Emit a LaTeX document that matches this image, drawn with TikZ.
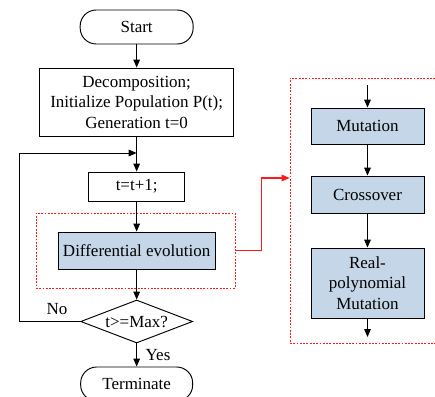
\documentclass[tikz,border=0pt]{standalone}
\usepackage{fontspec}
\setmainfont{Liberation Serif}
\usetikzlibrary{arrows.meta,shapes.geometric}
\definecolor{opfill}{HTML}{C4D6E7}
\definecolor{linkred}{HTML}{FF1A1A}

\begin{document}
\begin{tikzpicture}[x=1cm,y=1cm,
  font=\fontsize{14.5}{17.5}\selectfont,
  procbox/.style={draw=black, line width=0.8pt, align=center, inner sep=2pt},
  opbox/.style={procbox, fill=opfill, minimum width=3.39cm},
  termbox/.style={procbox, rounded corners=0.48cm, minimum height=1.02cm},
  decision/.style={procbox, diamond, aspect=2.6, inner sep=0pt, minimum width=3.36cm, minimum height=1.29cm},
  redbox/.style={draw=linkred, line width=0.6pt, dash pattern=on 1.6pt off 1.2pt, inner sep=0pt},
  arr/.style={draw=black, line width=0.8pt, -{Triangle[length=0.24cm,width=0.2cm]}},
  redlink/.style={draw=linkred, line width=0.9pt, -{Triangle[length=0.24cm,width=0.2cm]}}]
\useasboundingbox (0,0) rectangle (13.05,11.88);

% main loop
\node[termbox, minimum width=3.39cm] (start) at (4.1,11.07) {Start};
\node[procbox, minimum width=5.82cm, minimum height=2.04cm] (init) at (4.1,8.82) {Decomposition;\\Initialize Population P(t);\\Generation t=0};
\node[procbox, minimum width=2.88cm, minimum height=0.87cm] (tinc) at (4.1,6.285) {t=t+1;};
\node[redbox, minimum width=5.97cm, minimum height=2.25cm] (evobox) at (4.065,4.365) {};
\node[opbox, minimum width=4.71cm, minimum height=1.11cm] (de) at (4.1,4.365) {Differential evolution};
\node[decision] (check) at (4.1,2.235) {t>=Max?};
\node[termbox, minimum width=3.36cm] (stop) at (4.1,0.36) {Terminate};
\node (nolab) at (1.71,2.61) {No};
\node (yeslab) at (4.74,1.23) {Yes};
\coordinate (corner) at (0.57,7.29);
\coordinate (merge) at (4.1,7.29);

\draw[arr] (start) -- (init);
\draw[arr] (init) -- (tinc);
\draw[arr] (tinc) -- (de);
\draw[arr] (de) -- (check);
\draw[arr] (check) -- (stop);
\draw[arr] (check.west) -| (corner) -- (merge);

% operators of the evolution step
\node[redbox, minimum width=4.5cm, minimum height=7.95cm] (opbox) at (10.95,5.565) {};
\node[opbox, minimum height=1.08cm] (mut) at (11.025,8.1) {Mutation};
\node[opbox, minimum height=1.11cm] (cross) at (11.025,6.045) {Crossover};
\node[opbox, minimum height=2.1cm] (real) at (11.025,3.39) {Real-\\polynomial\\Mutation};
\coordinate (opin) at (11.025,9.33);
\coordinate (opout) at (11.025,1.77);

\draw[arr] (opin) -- (mut);
\draw[arr] (mut) -- (cross);
\draw[arr] (cross) -- (real);
\draw[arr] (real) -- (opout);

\draw[redlink] (evobox.east) -- ++(0.78,0) |- ([yshift=0.975cm]opbox.west);
\end{tikzpicture}
\end{document}
